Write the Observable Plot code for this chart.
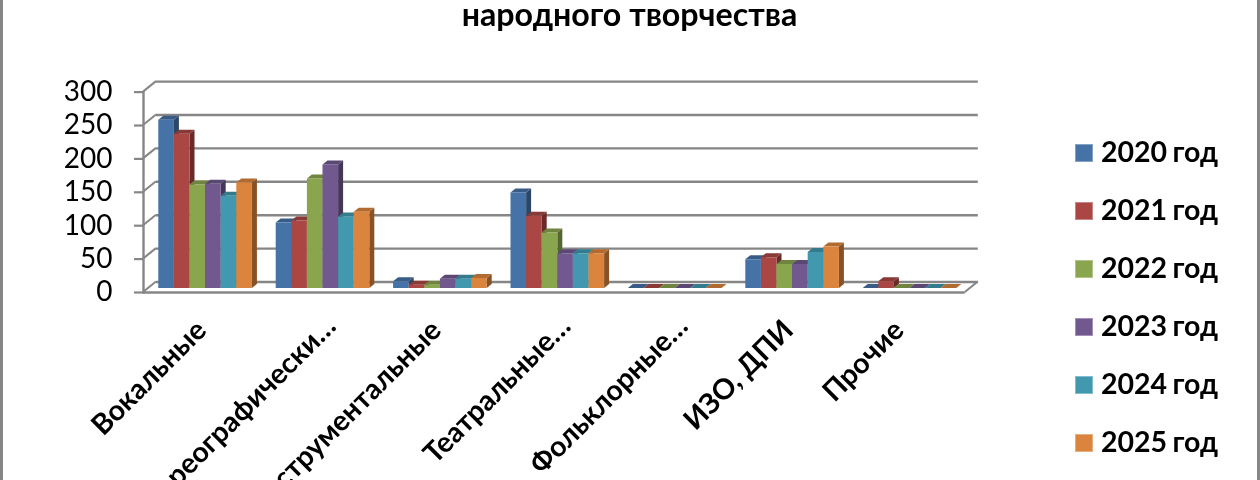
<!DOCTYPE html>
<html lang="ru">
<head>
<meta charset="utf-8">
<script src="https://cdn.jsdelivr.net/npm/d3@7"></script>
<script src="https://cdn.jsdelivr.net/npm/@observablehq/plot@0.6"></script>
<style>
html,body{margin:0;padding:0;background:#fff;overflow:hidden}
#page{position:relative;width:1260px;height:480px;overflow:hidden;font-family:Lato,"Open Sans",sans-serif;color:#000;filter:blur(0.45px)}
#page svg{position:absolute;left:0;top:0;font-family:inherit}
.edge{position:absolute;top:0;bottom:0;width:3px;background:#868686}
#title{position:absolute;left:0;width:1260px;top:0;text-align:center;font-weight:700;font-size:32.2px;line-height:28px;padding-right:1px;box-sizing:border-box;white-space:nowrap}
.item{position:absolute;left:1075px;height:20px}
.item i{position:absolute;left:0;top:0;width:18px;height:18px;box-sizing:border-box;border:1px solid rgba(255,255,255,.35)}
.item span{position:absolute;left:26px;top:-11px;font-weight:700;font-size:28.5px;line-height:36px;white-space:nowrap;word-spacing:-1.5px}
</style>
</head>
<body>
<div id="page"></div>
<script>
const categories = ["Вокальные","Хореографически…","Инструментальные","Театральные…","Фольклорные…","ИЗО, ДПИ","Прочие"];
const years = ["2020 год","2021 год","2022 год","2023 год","2024 год","2025 год"];
const colors = ["#4572a7","#aa4643","#89a54e","#71588f","#4198af","#db843d"];
const v2020 = [252,98,10,143,0,43,0];
const v2021 = [231,101,5,108,0,46,10];
const v2022 = [155,164,5,83,0,36,0];
const v2023 = [156,185,14,52,0,36,0];
const v2024 = [138,107,14,52,0,54,0];
const v2025 = [158,114,15,52,0,62,0];
const series = [v2020,v2021,v2022,v2023,v2024,v2025];
const yTicks = [0,50,100,150,200,250,300];
const titleText = "народного творчества";
const labelDx = [-4,8,-4,8,8,-4,-11];
const labelDy = [0,-4,0,-4,-4,0,0];

const groupPad = 0.1014;
const barStep = (1 - 2*groupPad) / years.length;
const rows = years.flatMap((year,s)=>categories.map((category,c)=>({
  category,year,value:series[s][c],
  left:c+groupPad+s*barStep,right:c+groupPad+(s+1)*barStep
})));

const GRID = "#868686";
const front = {dx:-3.4, dy:4};
const back = {dx:9.6, dy:-6.5};
const barDepth = {x:5, y:-4};

function bars3d(index, scales, values, dims, ctx, next){
  const g = next(index, scales, values, dims, ctx);
  d3.select(g).selectAll("rect").each(function(){
    const r = d3.select(this);
    const x = +r.attr("x"), y = +r.attr("y"), w = +r.attr("width"), h = +r.attr("height");
    const c = d3.color(r.attr("fill"));
    const make = (pts, col)=>{
      const p = document.createElementNS("http://www.w3.org/2000/svg","polygon");
      p.setAttribute("points", pts.map(q=>q.join(",")).join(" "));
      p.setAttribute("fill", col);
      this.parentNode.insertBefore(p, this);
    };
    const X=barDepth.x, Y=barDepth.y;
    make([[x+w,y],[x+w+X,y+Y],[x+w+X,y+h+Y],[x+w,y+h]], c.darker(1.35).formatHex());
    make([[x,y],[x+X,y+Y],[x+w+X,y+Y],[x+w,y]], c.darker(0.6).formatHex());
  });
  return g;
}

function wallEdges(index, scales, values, dims){
  const svgNS="http://www.w3.org/2000/svg";
  const g=document.createElementNS(svgNS,"g");
  const x0=dims.marginLeft, x1=dims.width-dims.marginRight;
  const add=(xa,ya,xb,yb)=>{
    const l=document.createElementNS(svgNS,"line");
    l.setAttribute("x1",xa);l.setAttribute("y1",ya);l.setAttribute("x2",xb);l.setAttribute("y2",yb);
    l.setAttribute("stroke",GRID);l.setAttribute("stroke-width",2);
    g.appendChild(l);
  };
  for(const i of index){
    const y=values.y[i];
    add(x0+front.dx,y+front.dy,x0+back.dx,y+back.dy);
    if(yTicks[i]===0) add(x1+front.dx,y+front.dy,x1+back.dx,y+back.dy);
  }
  return g;
}

const chart = Plot.plot({
  width:1260,height:480,
  marginLeft:146.4,marginRight:291.8,marginTop:87.6,marginBottom:192,
  style:{fontFamily:"Lato, 'Open Sans', sans-serif",background:"transparent"},
  x:{domain:[0,categories.length],axis:null},
  y:{domain:[0,300],axis:null},
  color:{domain:years,range:colors},
  marks:[
    Plot.ruleY(yTicks,{y:d=>d,dx:back.dx,dy:back.dy,stroke:GRID,strokeWidth:2.4,strokeOpacity:1}),
    Plot.ruleY(yTicks,{y:d=>d,render:wallEdges}),
    Plot.frame({anchor:"left",dx:front.dx,dy:front.dy,stroke:GRID,strokeWidth:2.4}),
    Plot.ruleY([0],{dx:front.dx,dy:front.dy,stroke:GRID,strokeWidth:2.6,strokeOpacity:1}),
    Plot.axisY({ticks:yTicks,anchor:"left",dx:front.dx,dy:front.dy,tickSize:9,tickPadding:22,stroke:GRID,strokeWidth:2.2,strokeOpacity:1,fontSize:28,fill:"#000",textStroke:"none",label:null}),
    Plot.rectY(rows,{x1:"left",x2:"right",y1:0,y2:"value",fill:"year",render:bars3d}),
    ...categories.map((name,i)=>Plot.axisX({anchor:"bottom",ticks:[i+0.5],tickFormat:()=>name,tickSize:0,tickPadding:37,tickRotate:-45,fontSize:28.5,fontWeight:700,fill:"#000",label:null,dx:labelDx[i],dy:labelDy[i]}))
  ]
});

const page=document.getElementById("page");
page.appendChild(chart);
for(const side of ["left","right"]){
  const e=document.createElement("div");e.className="edge";e.style[side]="0";page.appendChild(e);
}
const t=document.createElement("div");t.id="title";t.textContent=titleText;page.appendChild(t);
years.forEach((y,i)=>{
  const it=document.createElement("div");it.className="item";it.style.top=(143.5+58*i)+"px";
  const sw=document.createElement("i");sw.style.background=colors[i];
  const s=document.createElement("span");s.textContent=y;
  it.append(sw,s);page.appendChild(it);
});
</script>
</body>
</html>
